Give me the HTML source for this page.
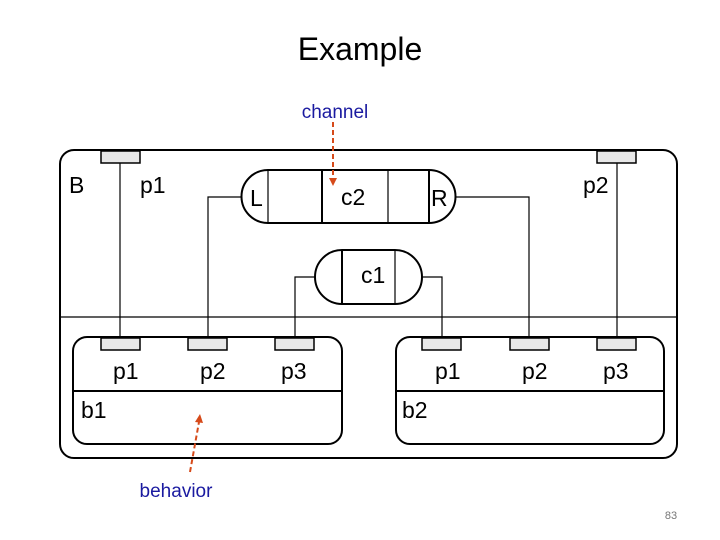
<!DOCTYPE html>
<html><head><meta charset="utf-8"><style>
html,body{margin:0;padding:0;background:#fff;width:720px;height:540px;overflow:hidden}
svg{display:block}
</style></head><body>
<svg width="720" height="540" viewBox="0 0 720 540" xmlns="http://www.w3.org/2000/svg">
<text x="360" y="60" text-anchor="middle" font-family="Liberation Sans, sans-serif" font-size="32" fill="#000">Example</text>
<text x="335" y="118" text-anchor="middle" font-family="Liberation Sans, sans-serif" font-size="19" fill="#1a1aa0">channel</text>
<text x="176" y="497" text-anchor="middle" font-family="Liberation Sans, sans-serif" font-size="19" fill="#1a1aa0">behavior</text>
<text x="671" y="519" text-anchor="middle" font-family="Liberation Sans, sans-serif" font-size="11" fill="#777">83</text>

<g fill="none" stroke="#000">
<rect x="60" y="150" width="617" height="308" rx="14" stroke-width="2"/>
<line x1="60" y1="317" x2="677" y2="317" stroke-width="1.2"/>
<rect x="73" y="337" width="269" height="107" rx="14" stroke-width="2"/>
<line x1="73" y1="391" x2="342" y2="391" stroke-width="2"/>
<rect x="396" y="337" width="268" height="107" rx="14" stroke-width="2"/>
<line x1="396" y1="391" x2="664" y2="391" stroke-width="2"/>
<g stroke-width="1.2">
<line x1="120" y1="163" x2="120" y2="337"/>
<polyline points="245,197 208,197 208,337"/>
<polyline points="318,277 295,277 295,337"/>
<polyline points="422,277 442,277 442,337"/>
<polyline points="455,197 529,197 529,337"/>
<line x1="617" y1="163" x2="617" y2="337"/>
</g>
<path d="M268,170 L429,170 A26.5,26.5 0 0 1 429,223 L268,223 A26.5,26.5 0 0 1 268,170 Z" fill="#fff" stroke-width="2"/>
<line x1="268" y1="170" x2="268" y2="223" stroke-width="1.2"/>
<line x1="322" y1="170" x2="322" y2="223" stroke-width="2"/>
<line x1="388" y1="170" x2="388" y2="223" stroke-width="1.2"/>
<line x1="429" y1="170" x2="429" y2="223" stroke-width="2"/>
<path d="M342,250 L395,250 A27,27 0 0 1 395,304 L342,304 A27,27 0 0 1 342,250 Z" fill="#fff" stroke-width="2"/>
<line x1="342" y1="250" x2="342" y2="304" stroke-width="2"/>
<line x1="395" y1="250" x2="395" y2="304" stroke-width="1.2"/>
</g>
<g fill="#e8e8e8" stroke="#000" stroke-width="1.5">
<rect x="101" y="151" width="39" height="12"/>
<rect x="597" y="151" width="39" height="12"/>
<rect x="101" y="338" width="39" height="12"/>
<rect x="188" y="338" width="39" height="12"/>
<rect x="275" y="338" width="39" height="12"/>
<rect x="422" y="338" width="39" height="12"/>
<rect x="510" y="338" width="39" height="12"/>
<rect x="597" y="338" width="39" height="12"/>
</g>
<g font-family="Liberation Sans, sans-serif" font-size="23" fill="#000">
<text x="69" y="193">B</text>
<text x="140" y="193">p1</text>
<text x="583" y="193">p2</text>
<text x="250" y="206">L</text>
<text x="341" y="205">c2</text>
<text x="431" y="206">R</text>
<text x="361" y="283">c1</text>
<text x="113" y="379">p1</text>
<text x="200" y="379">p2</text>
<text x="281" y="379">p3</text>
<text x="435" y="379">p1</text>
<text x="522" y="379">p2</text>
<text x="603" y="379">p3</text>
<text x="81" y="418">b1</text>
<text x="402" y="418">b2</text>
</g>
<g stroke="#d64a1a" stroke-width="2" stroke-dasharray="5,3" fill="none">
<line x1="333" y1="122" x2="333" y2="178"/>
<line x1="190" y1="472" x2="199" y2="422"/>
</g>
<polygon points="329,178 337,178 333,186" fill="#d64a1a"/>
<polygon points="195,422 203,423 200,414" fill="#d64a1a"/>
</svg>
</body></html>
